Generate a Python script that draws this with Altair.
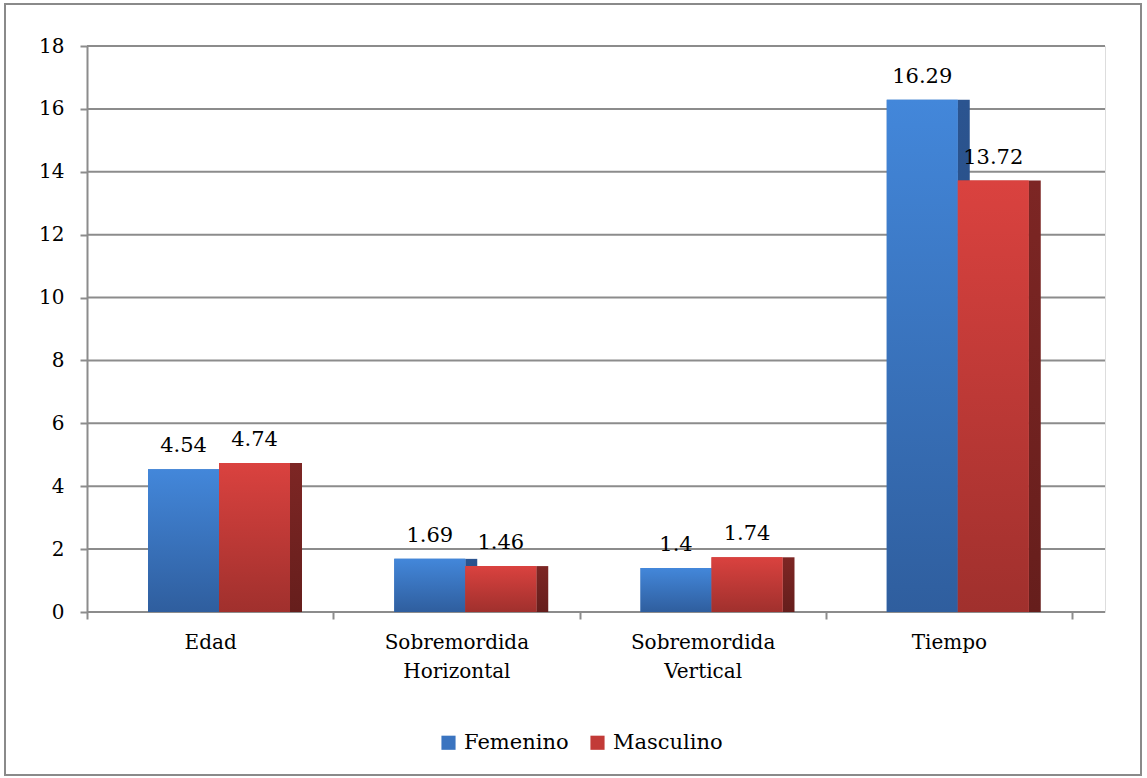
import altair as alt
import pandas as pd

# Mean values by sex for each variable
categories = ["Edad", "Sobremordida Horizontal", "Sobremordida Vertical", "Tiempo"]
femenino = [4.54, 1.69, 1.4, 16.29]
masculino = [4.74, 1.46, 1.74, 13.72]
series = ["Femenino", "Masculino"]
y_ticks = [0, 2, 4, 6, 8, 10, 12, 14, 16, 18]

rows = []
for cat, f, m in zip(categories, femenino, masculino):
    rows.append({"categoria": cat, "sexo": "Femenino", "valor": f})
    rows.append({"categoria": cat, "sexo": "Masculino", "valor": m})
df = pd.DataFrame(rows)
grid_df = pd.DataFrame({"valor": y_ticks})

FONT = "DejaVu Serif"
GRID = "#8c8c8c"

x_enc = alt.X(
    "categoria:N",
    sort=categories,
    title=None,
    scale=alt.Scale(domain=categories, range=[0, 985], paddingInner=0, paddingOuter=0),
    axis=alt.Axis(
        labelAngle=0,
        labelExpr="split(datum.label, ' ')",
        labelFont=FONT,
        labelFontSize=20,
        labelColor="black",
        labelLineHeight=29,
        labelPadding=13,
        domain=False,
        ticks=True,
        tickBand="extent",
        tickColor=GRID,
        tickWidth=2,
        tickSize=7,
        grid=False,
    ),
)
# front faces occupy the left part of each category band
xoff_front = alt.XOffset(
    "sexo:N",
    scale=alt.Scale(domain=series, range=[61, 203], paddingInner=0, paddingOuter=0),
)
# narrow side faces sit just right of each front face
xoff_side = alt.XOffset(
    "sexo:N",
    scale=alt.Scale(domain=series, range=[132, 215], paddingInner=59 / 71, paddingOuter=0),
)
# value labels centred over each front face
xoff_label = alt.XOffset(
    "sexo:N",
    scale=alt.Scale(type="point", domain=series, range=[96.5, 167.5], padding=0),
)
y_scale = alt.Scale(domain=[0, 18], nice=False)
y_axis = alt.Axis(
    values=y_ticks,
    labelFont=FONT,
    labelFontSize=20,
    labelColor="black",
    labelPadding=16,
    domainColor=GRID,
    domainWidth=2,
    tickColor=GRID,
    tickWidth=2,
    tickSize=7,
    grid=False,
)
y_enc = alt.Y("valor:Q", title=None, scale=y_scale, axis=y_axis)

base = alt.Chart(df)


def grad(top, bottom):
    return alt.Gradient(
        gradient="linear",
        stops=[alt.GradientStop(color=top, offset=0), alt.GradientStop(color=bottom, offset=1)],
        x1=0, x2=0, y1=0, y2=1,
    )


# horizontal gridlines across the full plot width
grid = alt.Chart(grid_df).mark_rule(color=GRID, strokeWidth=2).encode(
    y=y_enc,
    x=alt.value(0),
    x2=alt.value(1018),
)

side_fem = base.transform_filter(alt.datum.sexo == "Femenino").mark_bar(
    color=grad("#2b5490", "#244878")
).encode(x=x_enc, xOffset=xoff_side, y=y_enc)
side_mas = base.transform_filter(alt.datum.sexo == "Masculino").mark_bar(
    color=grad("#7d2624", "#661e1c")
).encode(x=x_enc, xOffset=xoff_side, y=y_enc)

# front faces: solid layer supplies the legend
front = base.mark_bar().encode(
    x=x_enc,
    xOffset=xoff_front,
    y=y_enc,
    color=alt.Color(
        "sexo:N",
        scale=alt.Scale(domain=series, range=["#3a74c0", "#c23a37"]),
        legend=alt.Legend(
            title=None,
            orient="none",
            direction="horizontal",
            legendX=351,
            legendY=686,
            symbolType="square",
            symbolSize=200,
            symbolStrokeWidth=0,
            labelFont=FONT,
            labelFontSize=21,
            labelColor="black",
            labelOffset=5,
            columnPadding=18,
        ),
    ),
)
front_fem = base.transform_filter(alt.datum.sexo == "Femenino").mark_bar(
    color=grad("#4387da", "#2f5e9e")
).encode(x=x_enc, xOffset=xoff_front, y=y_enc)
front_mas = base.transform_filter(alt.datum.sexo == "Masculino").mark_bar(
    color=grad("#da423f", "#a0302d")
).encode(x=x_enc, xOffset=xoff_front, y=y_enc)

labels = base.mark_text(
    font=FONT, fontSize=21, color="black", baseline="alphabetic", dy=-17
).encode(x=x_enc, xOffset=xoff_label, y=y_enc, text=alt.Text("valor:Q"))

# frame around the whole figure
frame = alt.Chart(alt.Data(values=[{}])).mark_rect(
    fill=None, stroke="#8a8a8a", strokeWidth=2, clip=False
).encode(
    x=alt.value(-82), x2=alt.value(1054), y=alt.value(-42), y2=alt.value(729)
)

chart = alt.layer(
    grid, side_fem, side_mas, front, front_fem, front_mas, labels, frame
).resolve_scale(
    xOffset="independent"
).properties(
    width=1018,
    height=566,
    autosize=alt.AutoSizeParams(type="none"),
    padding={"left": 87, "top": 46, "right": 42, "bottom": 166},
).configure_view(
    stroke=None
).configure(
    background="white",
    font=FONT,
)

chart.save("out.html", embed_options={"renderer": "svg", "actions": False})
